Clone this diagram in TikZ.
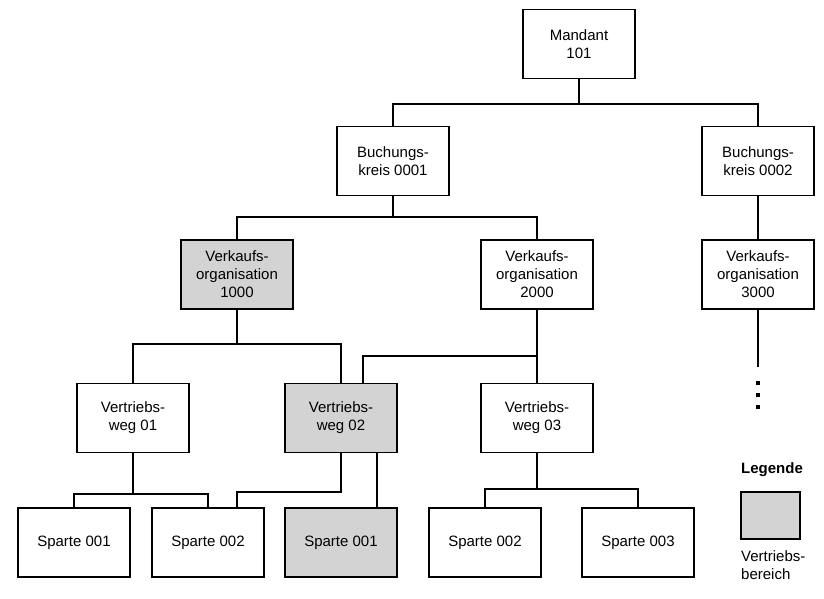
\documentclass[tikz,border=0pt]{standalone}
\usepackage{fontspec}
\setmainfont{Liberation Sans}
\definecolor{vbgray}{RGB}{211,211,211}
\begin{document}
\begin{tikzpicture}[x=1pt,y=-1pt,
  box/.style={draw=black,line width=1.2pt,fill=white,minimum width=112pt,minimum height=69pt,inner sep=0pt,align=center,font=\fontsize{15}{18}\selectfont},
  vb/.style={box,fill=vbgray},
  conn/.style={line width=1.2pt,black},
  dot/.style={fill=black,minimum size=3.2pt,inner sep=0pt,draw=none}]
\useasboundingbox (0,0) rectangle (824,598);
\node[box] (M) at (579,44) {Mandant\\101};
\node[box] (BK1) at (393,161) {Buchungs-\\kreis 0001};
\node[box] (BK2) at (758,161) {Buchungs-\\kreis 0002};
\node[vb] (VO1) at (237,274.5) {Verkaufs-\\organisation\\1000};
\node[box] (VO2) at (537,274.5) {Verkaufs-\\organisation\\2000};
\node[box] (VO3) at (758,274.5) {Verkaufs-\\organisation\\3000};
\node[box] (VW1) at (133,418) {Vertriebs-\\weg 01};
\node[vb] (VW2) at (341,418) {Vertriebs-\\weg 02};
\node[box] (VW3) at (537,418) {Vertriebs-\\weg 03};
\node[box] (S1) at (74,542.5) {Sparte 001};
\node[box] (S2) at (208,542.5) {Sparte 002};
\node[vb] (S3) at (341,542.5) {Sparte 001};
\node[box] (S4) at (485,542.5) {Sparte 002};
\node[box] (S5) at (638,542.5) {Sparte 003};
% junctions
\coordinate (j1) at (579,104);
\coordinate (j2) at (393,217);
\coordinate (j3) at (237,344);
\coordinate (j4) at (537,356);
\coordinate (j5) at (133,494);
\coordinate (j6) at (537,489);
\coordinate (j7) at (341,492);
\coordinate (vo3end) at (758,367);
\draw[conn] (M.south) -- (j1) -| (BK1.north);
\draw[conn] (j1) -| (BK2.north);
\draw[conn] (BK2.south) -- (VO3.north);
\draw[conn] (BK1.south) -- (j2) -| (VO1.north);
\draw[conn] (j2) -| (VO2.north);
\draw[conn] (VO1.south) -- (j3) -| (VW1.north);
\draw[conn] (j3) -| (VW2.north);
\draw[conn] (VO2.south) -- (VW3.north);
\draw[conn] (j4) -| ([xshift=22pt]VW2.north);
\draw[conn] (VW1.south) -- (j5) -| (S1.north);
\draw[conn] (j5) -| (S2.north);
\draw[conn] (VW2.south) -- (j7) -| ([xshift=29pt]S2.north);
\draw[conn] ([xshift=36pt]VW2.south) -- ([xshift=36pt]S3.north);
\draw[conn] (VW3.south) -- (j6) -| (S4.north);
\draw[conn] (j6) -| (S5.north);
\draw[conn] (VO3.south) -- (vo3end);
\node[dot] (d1) at (758,383) {};
\node[dot] (d2) at (758,395) {};
\node[dot] (d3) at (758,407) {};
% legend
\node[font=\fontsize{15}{18}\selectfont\bfseries] (leg) at (772,470) {Legende};
\node[draw=black,line width=1.2pt,fill=vbgray,minimum width=59pt,minimum height=47pt,inner sep=0pt] (legbox) at (770.5,515.5) {};
\node[anchor=north west,align=left,inner sep=0pt,font=\fontsize{15}{18}\selectfont] (legtxt) at (741,550) {Vertriebs-\\bereich};
\end{tikzpicture}
\end{document}
